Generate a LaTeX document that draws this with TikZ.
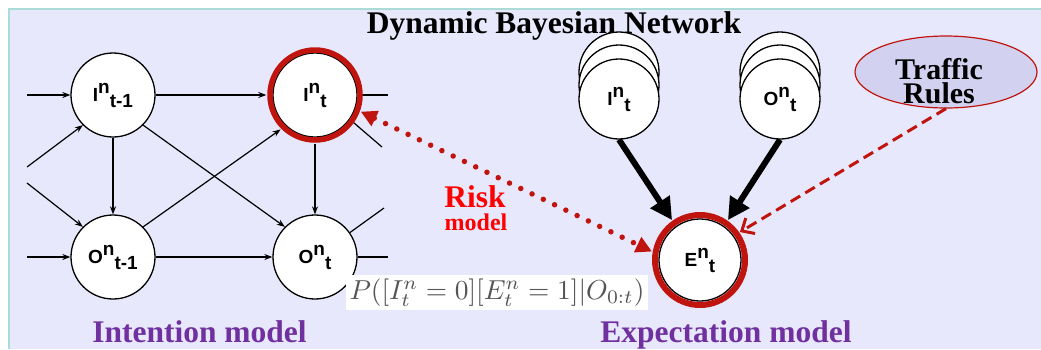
\documentclass[tikz,border=0pt]{standalone}
\usepackage[no-math]{fontspec}
\setmainfont{Liberation Serif}
\setsansfont{Liberation Sans}
\usetikzlibrary{arrows.meta,shapes.geometric}
\definecolor{bgc}{HTML}{E8E8FC}
\definecolor{edgec}{HTML}{A9DCD6}
\definecolor{ringc}{HTML}{C0150F}
\definecolor{purp}{HTML}{7030A0}
\definecolor{ellc}{HTML}{D2D2F0}
\definecolor{formc}{HTML}{555555}
\newcommand{\dbnlab}[3]{{\fontsize{19}{19}\selectfont\sffamily\bfseries #1\raisebox{8pt}{#2}\raisebox{-6pt}{#3}}}
\tikzset{
  dbn/.style={circle, draw=black, line width=1.3pt, fill=white, minimum size=84pt, inner sep=0pt},
  stk/.style={circle, draw=black, line width=1.3pt, fill=white, minimum size=80pt, inner sep=0pt},
  ringnode/.style={circle, minimum size=97pt, inner sep=0pt},
  edge/.style={-{Stealth[length=8pt,width=6pt]}, line width=1.2pt},
  stub/.style={line width=1.2pt},
  ring/.style={draw=ringc, line width=5.5pt},
  thick arrow/.style={-{Triangle[length=22pt,width=22pt]}, line width=6pt},
  riskarrow/.style={{Triangle[length=16pt,width=16pt]}-{Triangle[length=16pt,width=16pt]}, draw=ringc, line width=5.5pt, line cap=round, dash pattern=on 0pt off 12.5pt},
  rulearrow/.style={-{Straight Barb[length=10pt,width=18pt]}, draw=ringc, line width=3pt, dash pattern=on 11pt off 6pt},
  bigtxt/.style={font=\fontsize{31.5}{31.5}\selectfont\bfseries, inner sep=0pt},
}
\begin{document}
\begin{tikzpicture}[x=1pt,y=-1pt]
\useasboundingbox (0,0) rectangle (1041,349);
\fill[bgc] (9,9) rectangle (1041,349);
\draw[edgec, line width=1.5pt] (9,349) -- (9,9) -- (1041,9);

% title
\node[bigtxt, anchor=base] (title) at (554,33) {Dynamic Bayesian Network};
\draw[line width=1pt] (613,35) -- (632,35);

% intention model
\node[dbn] (It1) at (113,95) {\dbnlab{I}{n}{t-1}};
\node[dbn] (It) at (315,95) {\dbnlab{I}{n}{t}};
\node[dbn] (Ot1) at (113,257) {\dbnlab{O}{n}{t-1}};
\node[dbn] (Ot) at (315,257) {\dbnlab{O}{n}{t}};
\node[ringnode] (ItR) at (315,95) {};

\coordinate (inA) at (27,95);
\coordinate (inB) at (27,167);
\coordinate (inC) at (27,183);
\coordinate (inD) at (27,257);
\coordinate (outA) at (388,95);
\coordinate (outB) at (382,147);
\coordinate (outC) at (384,208);
\coordinate (outD) at (388,257);

\draw[edge] (inA) -- (It1);
\draw[edge] (inB) -- (It1.-135);
\draw[edge] (inC) -- (Ot1.135);
\draw[edge] (inD) -- (Ot1);
\draw[edge] (It1) -- (ItR);
\draw[edge] (It1) -- (Ot1);
\draw[edge] (It1.-45) -- (Ot.135);
\draw[edge] (Ot1.45) -- (ItR.-135);
\draw[edge] (Ot1) -- (Ot);
\draw[edge] (ItR) -- (Ot);
\draw[stub] (It) -- (outA);
\draw[stub] (It.-35) -- (outB);
\draw[stub] (Ot.35) -- (outC);
\draw[stub] (Ot) -- (outD);
\draw[ring] (It) circle (45pt);

\node[purp, bigtxt, anchor=base] (intl) at (199.5,342) {Intention model};

% formula
\node[fill=white, text=formc, inner xsep=3pt, inner ysep=4pt, anchor=center] (form) at (497,292.5)
  {\resizebox{295pt}{!}{$P([I_t^n=0][E_t^n=1]|O_{0:t})$}};

% expectation model
\node[stk] at (619,72) {};
\node[stk] at (619,85) {};
\node[stk] (Is) at (619,99) {\dbnlab{I}{n}{t}};
\node[stk] at (780,72) {};
\node[stk] at (780,85) {};
\node[stk] (Os) at (780,99) {\dbnlab{O}{n}{t}};

\node[dbn, minimum size=82pt] (Et) at (700,260) {\dbnlab{E}{n}{t}};
\node[ringnode] (ErR) at (700,260) {};
\draw[ring, line width=6pt] (Et) circle (45pt);

\draw[thick arrow] (Is.south) -- (ErR.125);
\draw[thick arrow] (Os.south) -- (ErR.55);

\node[ellipse, draw=ringc, fill=ellc, line width=1.2pt, minimum width=182pt, minimum height=72pt] (TR) at (946,72) {};
\node[font=\fontsize{30}{24}\selectfont\bfseries, align=center, inner sep=0pt] (trt) at (939,81) {Traffic\\Rules};
\draw[rulearrow] (TR.south) -- (ErR.35);

\draw[riskarrow] (ItR.-20) -- (ErR.170);
\node[text=red, bigtxt, anchor=base] (risk) at (475,207) {Risk};
\node[text=red, font=\fontsize{24}{24}\selectfont\bfseries, inner sep=0pt, anchor=base] (riskm) at (476,230) {model};

\node[purp, bigtxt, anchor=base] (expl) at (726,342) {Expectation model};
\end{tikzpicture}
\end{document}
